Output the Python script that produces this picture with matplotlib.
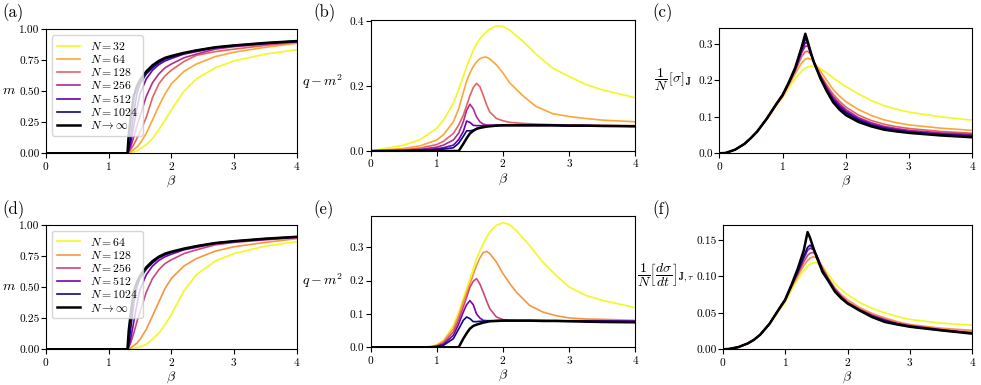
import numpy as np
import matplotlib.pyplot as plt

plt.rcParams['font.family'] = 'serif'
plt.rcParams['font.serif'] = ['cmr10']
plt.rcParams['mathtext.fontset'] = 'cm'
plt.rcParams['axes.formatter.use_mathtext'] = True
plt.rcParams['axes.unicode_minus'] = False

# ---- dados ----
N_cima = [32, 64, 128, 256, 512, 1024]
N_baixo = [64, 128, 256, 512, 1024]

# (a) magnetizacao, N = 32 ... 1024, inf
beta_a = [0, 1.0, 1.25, 1.3, 1.32, 1.35, 1.4, 1.45, 1.5, 1.6, 1.7, 1.8, 1.9, 2.0, 2.2, 2.4, 2.7, 3.0, 3.5, 4.0]
m_a_32 = [0, 0, 0, 0.001, 0.003, 0.006, 0.012, 0.02, 0.035, 0.07, 0.12, 0.19, 0.27, 0.35, 0.50, 0.60, 0.69, 0.745, 0.80, 0.835]
m_a_64 = [0, 0, 0, 0.002, 0.005, 0.012, 0.03, 0.05, 0.08, 0.16, 0.27, 0.38, 0.48, 0.56, 0.66, 0.72, 0.78, 0.815, 0.855, 0.887]
m_a_128 = [0, 0, 0, 0.003, 0.01, 0.03, 0.07, 0.12, 0.17, 0.29, 0.45, 0.56, 0.625, 0.67, 0.74, 0.79, 0.82, 0.84, 0.87, 0.895]
m_a_256 = [0, 0, 0, 0.004, 0.015, 0.05, 0.13, 0.22, 0.30, 0.46, 0.57, 0.64, 0.69, 0.72, 0.77, 0.80, 0.84, 0.86, 0.88, 0.90]
m_a_512 = [0, 0, 0, 0.005, 0.02, 0.08, 0.22, 0.36, 0.48, 0.60, 0.67, 0.715, 0.745, 0.765, 0.80, 0.82, 0.85, 0.865, 0.885, 0.90]
m_a_1024 = [0, 0, 0, 0.005, 0.03, 0.13, 0.33, 0.48, 0.56, 0.64, 0.69, 0.73, 0.76, 0.775, 0.805, 0.83, 0.855, 0.87, 0.89, 0.905]
m_inf = [0, 0, 0, 0, 0.15, 0.28, 0.46, 0.54, 0.59, 0.66, 0.71, 0.745, 0.77, 0.785, 0.81, 0.83, 0.855, 0.87, 0.89, 0.905]

# (d) magnetizacao, N = 64 ... 1024, inf
m_d_64 = [0, 0, 0, 0.001, 0.002, 0.004, 0.008, 0.013, 0.02, 0.04, 0.08, 0.13, 0.20, 0.28, 0.47, 0.60, 0.71, 0.77, 0.83, 0.865]
m_d_128 = [0, 0, 0, 0.002, 0.005, 0.012, 0.03, 0.05, 0.08, 0.16, 0.27, 0.38, 0.49, 0.57, 0.67, 0.73, 0.79, 0.825, 0.86, 0.89]
m_d_256 = [0, 0, 0, 0.004, 0.015, 0.05, 0.13, 0.22, 0.30, 0.46, 0.57, 0.64, 0.69, 0.72, 0.77, 0.80, 0.84, 0.86, 0.88, 0.90]
m_d_512 = [0, 0, 0, 0.005, 0.02, 0.08, 0.22, 0.36, 0.48, 0.60, 0.67, 0.715, 0.745, 0.765, 0.80, 0.82, 0.85, 0.865, 0.885, 0.90]
m_d_1024 = [0, 0, 0, 0.005, 0.04, 0.16, 0.37, 0.50, 0.57, 0.645, 0.695, 0.735, 0.76, 0.778, 0.806, 0.83, 0.855, 0.87, 0.89, 0.905]

# (b) q - m^2
beta_b = [0, 0.5, 0.75, 1.0, 1.1, 1.25, 1.33, 1.4, 1.45, 1.5, 1.55, 1.6, 1.65, 1.7, 1.75, 1.8, 1.9, 2.0, 2.1, 2.3, 2.5, 2.75, 3.0, 3.25, 3.5, 4.0]
q_b_32 = [0, 0.018, 0.035, 0.07, 0.095, 0.147, 0.19, 0.23, 0.26, 0.285, 0.31, 0.33, 0.345, 0.357, 0.367, 0.375, 0.385, 0.383, 0.372, 0.338, 0.298, 0.255, 0.229, 0.205, 0.188, 0.164]
q_b_64 = [0, 0.008, 0.016, 0.034, 0.05, 0.09, 0.13, 0.18, 0.215, 0.24, 0.26, 0.274, 0.284, 0.288, 0.289, 0.283, 0.265, 0.24, 0.21, 0.17, 0.137, 0.115, 0.106, 0.100, 0.095, 0.09]
q_b_128 = [0, 0.004, 0.009, 0.02, 0.03, 0.054, 0.08, 0.11, 0.14, 0.17, 0.195, 0.208, 0.198, 0.172, 0.143, 0.12, 0.10, 0.093, 0.088, 0.085, 0.083, 0.081, 0.08, 0.079, 0.079, 0.078]
q_b_256 = [0, 0.002, 0.005, 0.012, 0.018, 0.034, 0.055, 0.09, 0.125, 0.144, 0.13, 0.105, 0.09, 0.083, 0.08, 0.079, 0.079, 0.079, 0.079, 0.079, 0.079, 0.079, 0.078, 0.078, 0.078, 0.077]
q_b_512 = [0, 0.001, 0.003, 0.007, 0.01, 0.018, 0.035, 0.06, 0.092, 0.088, 0.079, 0.078, 0.078, 0.078, 0.078, 0.079, 0.079, 0.079, 0.079, 0.079, 0.079, 0.079, 0.078, 0.078, 0.077, 0.076]
q_b_1024 = [0, 0.0005, 0.0015, 0.004, 0.006, 0.01, 0.024, 0.045, 0.062, 0.062, 0.064, 0.069, 0.072, 0.074, 0.076, 0.077, 0.078, 0.079, 0.079, 0.079, 0.079, 0.079, 0.078, 0.078, 0.077, 0.076]
q_b_inf = [0, 0, 0, 0, 0, 0, 0, 0.022, 0.039, 0.054, 0.062, 0.068, 0.071, 0.073, 0.075, 0.076, 0.078, 0.079, 0.079, 0.079, 0.079, 0.079, 0.078, 0.078, 0.077, 0.076]

# (e) q - m^2
beta_e = [0, 0.7, 0.9, 1.0, 1.1, 1.25, 1.33, 1.4, 1.45, 1.5, 1.55, 1.6, 1.65, 1.7, 1.75, 1.8, 1.9, 2.0, 2.1, 2.2, 2.4, 2.6, 2.8, 3.0, 3.25, 3.5, 4.0]
q_e_64 = [0, 0, 0.002, 0.008, 0.02, 0.066, 0.105, 0.146, 0.176, 0.206, 0.236, 0.266, 0.29, 0.31, 0.33, 0.346, 0.366, 0.374, 0.368, 0.35, 0.306, 0.256, 0.216, 0.181, 0.156, 0.141, 0.119]
q_e_128 = [0, 0, 0.002, 0.006, 0.018, 0.056, 0.095, 0.136, 0.163, 0.19, 0.218, 0.246, 0.268, 0.284, 0.288, 0.281, 0.256, 0.221, 0.192, 0.166, 0.126, 0.106, 0.095, 0.088, 0.085, 0.084, 0.081]
q_e_256 = [0, 0, 0.001, 0.004, 0.013, 0.046, 0.083, 0.121, 0.15, 0.18, 0.198, 0.206, 0.19, 0.166, 0.14, 0.116, 0.091, 0.083, 0.081, 0.08, 0.08, 0.08, 0.08, 0.08, 0.08, 0.08, 0.079]
q_e_512 = [0, 0, 0.001, 0.003, 0.009, 0.036, 0.07, 0.106, 0.128, 0.14, 0.128, 0.10, 0.088, 0.081, 0.08, 0.08, 0.08, 0.08, 0.08, 0.08, 0.08, 0.08, 0.08, 0.079, 0.079, 0.079, 0.079]
q_e_1024 = [0, 0, 0.0005, 0.002, 0.006, 0.026, 0.055, 0.081, 0.091, 0.086, 0.077, 0.077, 0.078, 0.078, 0.079, 0.079, 0.08, 0.08, 0.08, 0.08, 0.08, 0.08, 0.079, 0.079, 0.078, 0.078, 0.077]
q_e_inf = [0, 0, 0, 0, 0, 0, 0, 0.026, 0.042, 0.056, 0.064, 0.068, 0.071, 0.074, 0.076, 0.078, 0.079, 0.08, 0.08, 0.08, 0.08, 0.079, 0.079, 0.078, 0.077, 0.076, 0.075]

# (c) e (f)
beta_c = [0, 0.1, 0.25, 0.4, 0.5, 0.6, 0.75, 0.9, 1.0, 1.1, 1.2, 1.3, 1.36, 1.4, 1.45, 1.5, 1.6, 1.7, 1.8, 1.9, 2.0, 2.2, 2.4, 2.6, 2.8, 3.0, 3.5, 4.0]
s_c_32 = [0, 0.001, 0.01, 0.026, 0.041, 0.059, 0.092, 0.13, 0.152, 0.18, 0.205, 0.225, 0.234, 0.237, 0.239, 0.238, 0.232, 0.22, 0.207, 0.195, 0.183, 0.163, 0.145, 0.131, 0.121, 0.113, 0.10, 0.091]
s_c_64 = [0, 0.001, 0.01, 0.026, 0.041, 0.059, 0.093, 0.132, 0.155, 0.187, 0.218, 0.248, 0.258, 0.261, 0.258, 0.25, 0.225, 0.20, 0.175, 0.157, 0.142, 0.12, 0.104, 0.092, 0.084, 0.078, 0.069, 0.063]
s_c_128 = [0, 0.001, 0.01, 0.026, 0.042, 0.06, 0.094, 0.133, 0.157, 0.19, 0.225, 0.265, 0.279, 0.28, 0.27, 0.25, 0.215, 0.187, 0.162, 0.143, 0.127, 0.105, 0.09, 0.08, 0.073, 0.068, 0.06, 0.055]
s_c_256 = [0, 0.001, 0.01, 0.026, 0.042, 0.06, 0.094, 0.134, 0.158, 0.192, 0.228, 0.275, 0.294, 0.294, 0.272, 0.248, 0.212, 0.181, 0.155, 0.136, 0.12, 0.098, 0.084, 0.074, 0.068, 0.063, 0.056, 0.052]
s_c_512 = [0, 0.001, 0.01, 0.026, 0.042, 0.06, 0.095, 0.134, 0.159, 0.193, 0.23, 0.28, 0.304, 0.30, 0.272, 0.247, 0.21, 0.177, 0.15, 0.131, 0.115, 0.094, 0.08, 0.071, 0.065, 0.06, 0.053, 0.049]
s_c_1024 = [0, 0.001, 0.01, 0.026, 0.042, 0.06, 0.095, 0.135, 0.159, 0.194, 0.232, 0.285, 0.314, 0.303, 0.273, 0.246, 0.207, 0.173, 0.145, 0.126, 0.111, 0.091, 0.077, 0.068, 0.062, 0.058, 0.051, 0.046]
s_c_inf = [0, 0.001, 0.01, 0.026, 0.042, 0.06, 0.095, 0.135, 0.16, 0.195, 0.235, 0.29, 0.328, 0.305, 0.275, 0.248, 0.205, 0.17, 0.14, 0.12, 0.105, 0.086, 0.074, 0.065, 0.06, 0.056, 0.049, 0.044]

s_f_64 = [0, 0.0005, 0.003, 0.008, 0.013, 0.02, 0.034, 0.053, 0.064, 0.081, 0.096, 0.108, 0.114, 0.117, 0.119, 0.119, 0.114, 0.102, 0.09, 0.082, 0.075, 0.064, 0.056, 0.05, 0.045, 0.041, 0.036, 0.033]
s_f_128 = [0, 0.0005, 0.003, 0.008, 0.013, 0.02, 0.035, 0.054, 0.066, 0.084, 0.10, 0.115, 0.122, 0.125, 0.127, 0.126, 0.113, 0.097, 0.084, 0.075, 0.068, 0.057, 0.049, 0.043, 0.038, 0.034, 0.029, 0.026]
s_f_256 = [0, 0.0005, 0.003, 0.008, 0.013, 0.02, 0.035, 0.055, 0.067, 0.086, 0.103, 0.12, 0.129, 0.132, 0.133, 0.13, 0.111, 0.096, 0.083, 0.073, 0.065, 0.055, 0.047, 0.041, 0.036, 0.033, 0.027, 0.0235]
s_f_512 = [0, 0.0005, 0.003, 0.008, 0.013, 0.02, 0.035, 0.055, 0.068, 0.087, 0.105, 0.125, 0.136, 0.139, 0.137, 0.13, 0.109, 0.095, 0.081, 0.072, 0.064, 0.054, 0.046, 0.040, 0.035, 0.032, 0.027, 0.022]
s_f_1024 = [0, 0.0005, 0.003, 0.008, 0.013, 0.02, 0.035, 0.055, 0.068, 0.087, 0.106, 0.128, 0.14, 0.143, 0.139, 0.13, 0.108, 0.094, 0.08, 0.071, 0.063, 0.053, 0.045, 0.039, 0.035, 0.031, 0.026, 0.022]
s_f_inf = [0, 0.0005, 0.003, 0.008, 0.013, 0.02, 0.035, 0.055, 0.068, 0.088, 0.11, 0.136, 0.161, 0.153, 0.14, 0.128, 0.106, 0.093, 0.079, 0.07, 0.063, 0.053, 0.044, 0.0375, 0.034, 0.031, 0.026, 0.0215]

cores_cima = plt.cm.plasma(np.linspace(1, 0, 6))
cores_baixo = plt.cm.plasma(np.linspace(1, 0, 5))


def painel(pos, beta, curvas, curva_inf, cores, Ns, ylabel, ylab_xy, ytop, yticks, fmt, legenda=False):
    ax = fig.add_axes(pos)
    for y, c, n in zip(curvas, cores, Ns):
        ax.plot(beta, y, color=c, lw=1.2, label=r'$N = %d$' % n)
    ax.plot(beta, curva_inf, color='black', lw=1.8, label=r'$N \to \infty$')
    ax.set_xlim(0, 4)
    ax.set_ylim(0, ytop)
    ax.set_xticks([0, 1, 2, 3, 4])
    ax.set_yticks(yticks)
    ax.set_yticklabels([fmt % v for v in yticks])
    ax.tick_params(labelsize=8.2, pad=1)
    ax.set_xlabel(r'$\beta$', fontsize=10, labelpad=1.5)
    ax.text(ylab_xy[0], ylab_xy[1], ylabel, fontsize=10, ha='right', va='center',
            transform=ax.transAxes)
    if legenda:
        ax.legend(loc='upper left', fontsize=8.5, handlelength=2.0, labelspacing=0.1,
                  borderpad=0.4, handletextpad=0.8)
    return ax


fig = plt.figure(figsize=(9.81, 3.85), dpi=100)

H, W = 385.0, 981.0


def caixa(x0, x1, y0, y1):
    return [x0 / W, 1 - y1 / H, (x1 - x0) / W, (y1 - y0) / H]


painel(caixa(46, 296.7, 29.3, 153.3), beta_a,
       [m_a_32, m_a_64, m_a_128, m_a_256, m_a_512, m_a_1024], m_inf,
       cores_cima, N_cima, r'$m$', (-0.12, 0.5), 1.0,
       [0, 0.25, 0.5, 0.75, 1.0], '%.2f', legenda=True)
painel(caixa(370.7, 635.3, 20, 151), beta_b,
       [q_b_32, q_b_64, q_b_128, q_b_256, q_b_512, q_b_1024], q_b_inf,
       cores_cima, N_cima, r'$q - m^2$', (-0.105, 0.53), 0.403,
       [0, 0.2, 0.4], '%.1f')
painel(caixa(719.3, 972.3, 28.3, 153.3), beta_c,
       [s_c_32, s_c_64, s_c_128, s_c_256, s_c_512, s_c_1024], s_c_inf,
       cores_cima, N_cima, r'$\dfrac{1}{N}\,[\sigma]_{\mathbf{J}}$', (-0.108, 0.586), 0.343,
       [0, 0.1, 0.2, 0.3], '%.1f')

painel(caixa(46, 296.7, 225, 349.3), beta_a,
       [m_d_64, m_d_128, m_d_256, m_d_512, m_d_1024], m_inf,
       cores_baixo, N_baixo, r'$m$', (-0.118, 0.5), 1.0,
       [0, 0.25, 0.5, 0.75, 1.0], '%.2f', legenda=True)
painel(caixa(370.7, 635.3, 216, 347.3), beta_e,
       [q_e_64, q_e_128, q_e_256, q_e_512, q_e_1024], q_e_inf,
       cores_baixo, N_baixo, r'$q - m^2$', (-0.105, 0.51), 0.394,
       [0, 0.1, 0.2, 0.3], '%.1f')
painel(caixa(722.7, 972.3, 225, 349.3), beta_c,
       [s_f_64, s_f_128, s_f_256, s_f_512, s_f_1024], s_f_inf,
       cores_baixo, N_baixo,
       r'$\dfrac{1}{N}\left[\dfrac{d\sigma}{dt}\right]_{\mathbf{J},\mathbf{\tau}}$',
       (-0.112, 0.6), 0.1707, [0, 0.05, 0.10, 0.15], '%.2f')

for txt, x, y in [('(a)', 2, 3), ('(b)', 313, 3), ('(c)', 652, 3),
                  ('(d)', 2, 200), ('(e)', 313, 200), ('(f)', 652, 200)]:
    fig.text(x / W, 1 - y / H, txt, fontsize=12, ha='left', va='top')

fig.savefig('out.png', dpi=100)
